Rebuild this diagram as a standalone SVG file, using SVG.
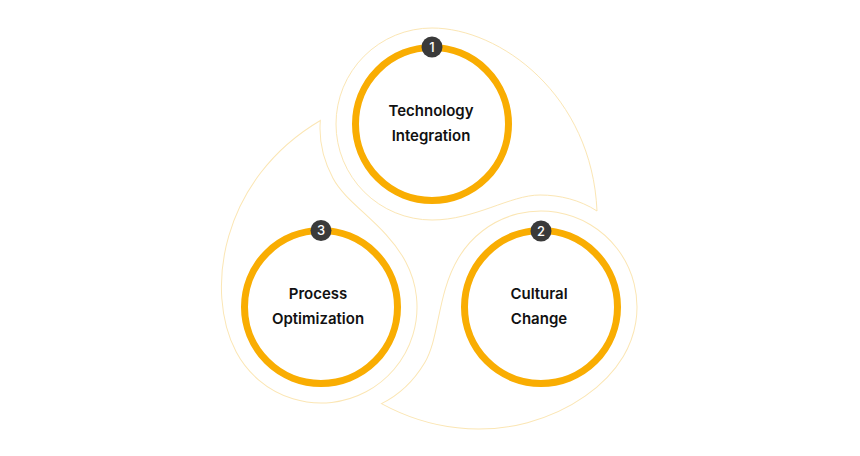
<svg xmlns="http://www.w3.org/2000/svg" width="860" height="456" viewBox="0 0 860 456">
<defs>
<path id="petal" d="M 0,-96 C 68,-96 160,-29 165,87 C 148,76 128,71 108,71 C 78,71 43,96 0,96 A 96 96 0 0 1 0,-96 Z"/>
</defs>
<style>
.petal{fill:none;stroke:#fbe6b4;stroke-width:1}
.ring{fill:#ffffff;stroke:#f9ad02;stroke-width:7}
.badge{fill:#3a3a3a}
.num{fill:#ffffff;font-family:Inter,"Liberation Sans",sans-serif;font-size:13px;font-weight:500;text-anchor:middle}
.label{fill:#111111;font-family:Inter,"Liberation Sans",sans-serif;font-size:15px;font-weight:600;text-anchor:middle}
</style>
<rect width="860" height="456" fill="#ffffff"/>
<g id="connectors">
<use href="#petal" class="petal" transform="translate(432,124)"/>
<use href="#petal" class="petal" transform="translate(541,307) rotate(121)"/>
<use href="#petal" class="petal" transform="translate(321,307) rotate(242)"/>
</g>
<g id="node1">
<circle class="ring" cx="432" cy="124" r="76.5"/>
<circle class="badge" cx="432" cy="47" r="10.5"/>
<text class="num" x="432" y="51.5">1</text>
<text class="label" x="431" y="116">Technology</text>
<text class="label" x="431" y="140.5">Integration</text>
</g>
<g id="node2">
<circle class="ring" cx="541" cy="307" r="76.5"/>
<circle class="badge" cx="541" cy="231" r="10.5"/>
<text class="num" x="541" y="235.5">2</text>
<text class="label" x="539" y="299">Cultural</text>
<text class="label" x="539" y="323.5">Change</text>
</g>
<g id="node3">
<circle class="ring" cx="321" cy="307" r="76.5"/>
<circle class="badge" cx="321" cy="230.5" r="10.5"/>
<text class="num" x="321" y="235">3</text>
<text class="label" x="318" y="299">Process</text>
<text class="label" x="318" y="323.5">Optimization</text>
</g>
</svg>
